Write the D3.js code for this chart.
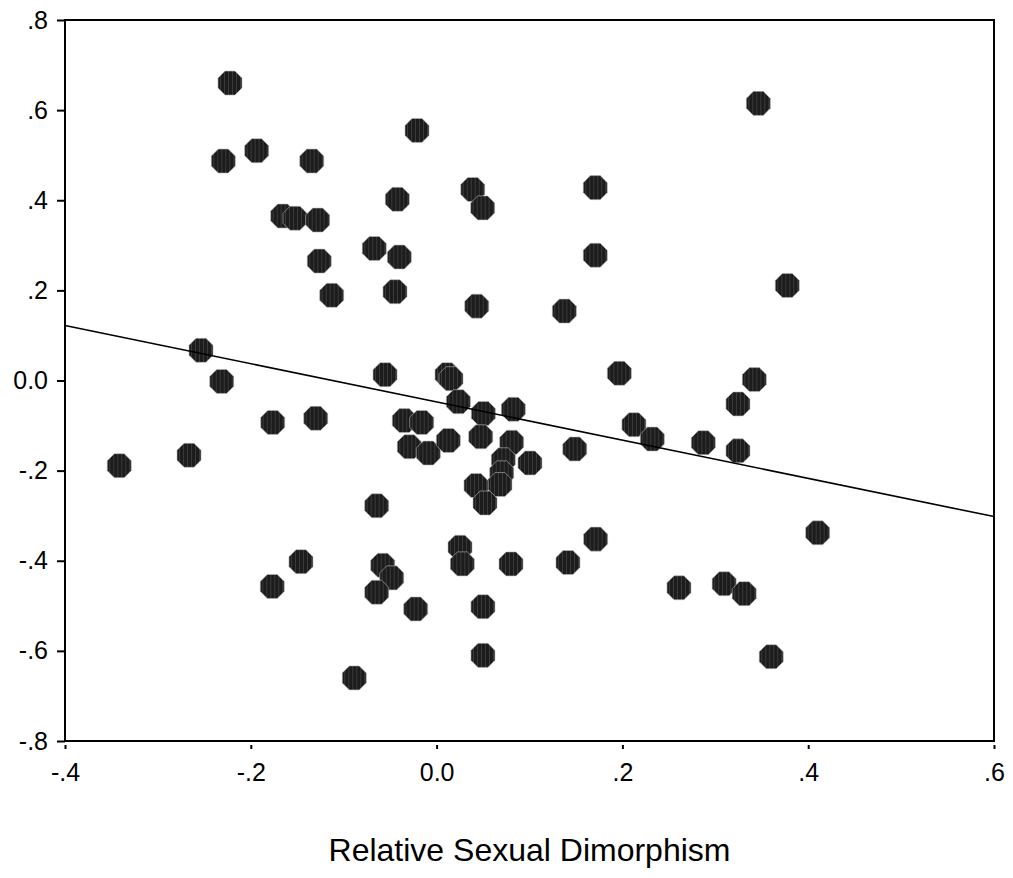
<!DOCTYPE html>
<html>
<head>
<meta charset="utf-8">
<script src="https://cdn.jsdelivr.net/npm/d3@7"></script>
<style>
  html, body { margin: 0; padding: 0; background: #fff; }
  svg { display: block; }
  text { font-family: "Liberation Sans", Arial, sans-serif; fill: #000; }
</style>
</head>
<body>
<svg id="chart" width="1013" height="878"></svg>
<script>
// ---- Data ----
const xValues = [
  -0.2224, -0.2296, -0.1937, -0.1344, -0.0211, 0.3463, -0.1657, -0.1524, -0.1280, -0.0423,
  0.0389, 0.0496, 0.1708, -0.0671, -0.0401, -0.1263, 0.1708, -0.1129, -0.0448, 0.0432,
  0.1375, 0.3775, -0.2536, -0.2313, -0.0555, 0.0112, 0.0155, 0.0234, 0.0503, 0.0826,
  -0.0348, -0.0160, -0.0294, -0.0089, 0.0126, 0.0475, 0.0808, 0.0718, 0.1005, 0.0701,
  0.0682, 0.0424, 0.0521, -0.0645, -0.1764, -0.1301, -0.2665, -0.3416, 0.1967, 0.3420,
  0.3244, 0.2124, 0.2322, 0.2871, 0.3244, 0.1487, 0.4102, 0.1712, 0.1414, -0.1460,
  -0.1769, 0.0252, 0.0277, 0.0801, -0.0580, -0.0483, -0.0645, -0.0225, 0.0499, 0.0499,
  -0.0886, 0.2609, 0.3095, 0.3311, 0.3602
];
const yValues = [
  0.660, 0.487, 0.510, 0.487, 0.555, 0.615, 0.365, 0.360, 0.356, 0.402,
  0.424, 0.383, 0.428, 0.293, 0.274, 0.265, 0.278, 0.189, 0.197, 0.165,
  0.154, 0.211, 0.067, -0.002, 0.013, 0.013, 0.004, -0.047, -0.073, -0.064,
  -0.089, -0.093, -0.147, -0.161, -0.133, -0.125, -0.137, -0.176, -0.183, -0.205,
  -0.231, -0.233, -0.272, -0.278, -0.093, -0.084, -0.166, -0.189, 0.016, 0.002,
  -0.052, -0.098, -0.130, -0.138, -0.156, -0.152, -0.338, -0.352, -0.404, -0.402,
  -0.457, -0.370, -0.407, -0.407, -0.410, -0.438, -0.470, -0.507, -0.502, -0.610,
  -0.660, -0.460, -0.451, -0.473, -0.613
];
// Fit line endpoints
const fitX = [-0.4, 0.6];
const fitY = [0.122, -0.302];

const xTicks = [-0.4, -0.2, 0.0, 0.2, 0.4, 0.6];
const xTickLabels = ["-.4", "-.2", "0.0", ".2", ".4", ".6"];
const yTicks = [0.8, 0.6, 0.4, 0.2, 0.0, -0.2, -0.4, -0.6, -0.8];
const yTickLabels = [".8", ".6", ".4", ".2", "0.0", "-.2", "-.4", "-.6", "-.8"];
const xTitle = "Relative Sexual Dimorphism";

// ---- Layout ----
const plot = { left: 65, right: 994, top: 20, bottom: 741 };
const svg = d3.select("#chart");

const x = d3.scaleLinear().domain([-0.4, 0.6]).range([plot.left, plot.right]);
const y = d3.scaleLinear().domain([-0.8, 0.8]).range([plot.bottom, plot.top]);

// hatch pattern for markers
const defs = svg.append("defs");
const pat = defs.append("pattern")
  .attr("id", "hatch").attr("patternUnits", "userSpaceOnUse")
  .attr("width", 4).attr("height", 4);
pat.append("rect").attr("width", 4).attr("height", 4).attr("fill", "#1c1c1c");
pat.append("rect").attr("x", 2).attr("width", 1).attr("height", 4).attr("fill", "#3a3a3a");

// Points
const R = 13;
const octagon = d3.range(8).map(i => {
  const a = Math.PI / 8 + i * Math.PI / 4;
  return [R * Math.cos(a), R * Math.sin(a)];
});
const octPath = "M" + octagon.map(p => p.join(",")).join("L") + "Z";

svg.append("g").selectAll("path")
  .data(xValues.map((v, i) => [v, yValues[i]]))
  .join("path")
  .attr("d", octPath)
  .attr("transform", d => `translate(${x(d[0])},${y(d[1])})`)
  .attr("fill", "url(#hatch)")
  .attr("stroke", "#bbb")
  .attr("stroke-width", 0.6);

// regression line
svg.append("line")
  .attr("x1", x(fitX[0])).attr("y1", y(fitY[0]))
  .attr("x2", x(fitX[1])).attr("y2", y(fitY[1]))
  .attr("stroke", "#000").attr("stroke-width", 1.6);

// Frame
svg.append("rect")
  .attr("x", plot.left).attr("y", plot.top)
  .attr("width", plot.right - plot.left).attr("height", plot.bottom - plot.top)
  .attr("fill", "none").attr("stroke", "#000").attr("stroke-width", 2);

// Y axis
const yAxis = d3.axisLeft(y).tickValues(yTicks)
  .tickFormat((d, i) => yTickLabels[i]).tickSize(8).tickPadding(9);
const gy = svg.append("g").attr("transform", `translate(${plot.left},0)`).call(yAxis);
gy.attr("font-size", null).attr("font-family", null);
gy.select(".domain").remove();
gy.selectAll(".tick line").attr("stroke", "#000").attr("stroke-width", 2);
gy.selectAll(".tick text").style("font-size", "25px").attr("fill", "#000");

// X axis
const xAxis = d3.axisBottom(x).tickValues(xTicks)
  .tickFormat((d, i) => xTickLabels[i]).tickSize(4).tickPadding(14);
const gx = svg.append("g").attr("transform", `translate(0,${plot.bottom + 4})`).call(xAxis);
gx.attr("font-size", null).attr("font-family", null);
gx.select(".domain").remove();
gx.selectAll(".tick line").attr("stroke", "#000").attr("stroke-width", 2);
gx.selectAll(".tick text").style("font-size", "25px").attr("fill", "#000");

// X title
svg.append("text")
  .attr("x", (plot.left + plot.right) / 2)
  .attr("y", 861)
  .attr("text-anchor", "middle")
  .style("font-size", "32px")
  .text(xTitle);
</script>
</body>
</html>
